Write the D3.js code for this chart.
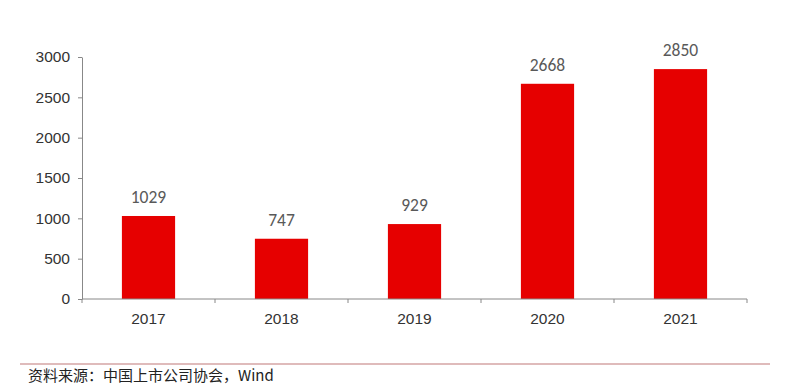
<!DOCTYPE html>
<html>
<head>
<meta charset="utf-8">
<script src="https://cdn.jsdelivr.net/npm/d3@7"></script>
<style>
  body { margin: 0; background: #fff; }
  .tick text { font-family: "Liberation Sans", Arial, sans-serif; font-size: 15.5px; fill: #333; }
  .domain, .tick line { stroke: #888; }
</style>
</head>
<body>
<div id="chart"></div>
<script>
const years = ["2017", "2018", "2019", "2020", "2021"];
const counts = [1029, 747, 929, 2668, 2850];
const yTicks = [0, 500, 1000, 1500, 2000, 2500, 3000];
const sourceText = "资料来源：中国上市公司协会，Wind";

const W = 799, H = 388;
const margin = { top: 57, right: 52, bottom: 89, left: 82 };
const width = W - margin.left - margin.right;
const height = H - margin.top - margin.bottom;

const svg = d3.select("#chart").append("svg")
    .attr("width", W)
    .attr("height", H);

const g = svg.append("g")
    .attr("transform", `translate(${margin.left},${margin.top})`);

const x = d3.scaleBand().domain(years).range([0, width]).paddingInner(0.6).paddingOuter(0.3);
const xb = d3.scaleBand().domain(years).range([0, width]);
const y = d3.scaleLinear().domain([0, 3000]).range([height, 0]);

// y axis
g.append("g")
    .call(d3.axisLeft(y).tickValues(yTicks).tickFormat(d3.format("d"))
        .tickSize(4).tickSizeOuter(0).tickPadding(8));

// bars
const rows = years.map((d, i) => ({ year: d, value: counts[i] }));
g.selectAll(".bar")
    .data(rows)
    .join("rect")
    .attr("class", "bar")
    .attr("x", d => x(d.year))
    .attr("width", x.bandwidth())
    .attr("y", d => y(d.value))
    .attr("height", d => height - y(d.value))
    .attr("fill", "#e60000");

// value labels
g.selectAll(".val")
    .data(rows)
    .join("text")
    .attr("class", "val")
    .attr("x", d => x(d.year) + x.bandwidth() / 2)
    .attr("y", d => y(d.value) - 13)
    .attr("text-anchor", "middle")
    .style("font-family", "Carlito, Calibri, 'Open Sans', sans-serif")
    .style("font-size", "17.5px")
    .style("fill", "#595959")
    .text(d => d.value);

// x axis: line, boundary ticks, labels
const xg = g.append("g").attr("transform", `translate(0,${height})`);
xg.append("line")
    .attr("x1", 0).attr("x2", width)
    .attr("stroke", "#888");
const bounds = years.map(d => xb(d)).concat([width]);
xg.selectAll(".xt")
    .data(bounds)
    .join("line")
    .attr("class", "xt")
    .attr("x1", d => d).attr("x2", d => d)
    .attr("y1", 0).attr("y2", 4)
    .attr("stroke", "#888");
xg.selectAll(".xl")
    .data(years)
    .join("text")
    .attr("class", "xl")
    .attr("x", d => xb(d) + xb.bandwidth() / 2)
    .attr("y", 25)
    .attr("text-anchor", "middle")
    .style("font-family", "'Liberation Sans', Arial, sans-serif")
    .style("font-size", "15.5px")
    .style("fill", "#333")
    .text(d => d);

// source line and text
svg.append("line")
    .attr("x1", 20).attr("x2", 770)
    .attr("y1", 364).attr("y2", 364)
    .attr("stroke", "#c07878")
    .attr("stroke-width", 1.2);
svg.append("text")
    .attr("x", 28)
    .attr("y", 381)
    .style("font-family", "'Noto Sans CJK SC', sans-serif")
    .style("font-size", "15px")
    .style("fill", "#222")
    .text(sourceText);
</script>
</body>
</html>
